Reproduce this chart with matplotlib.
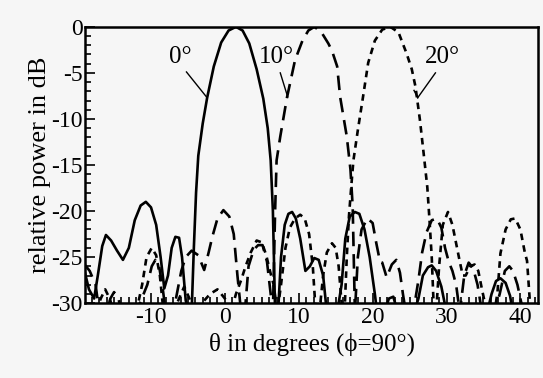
import matplotlib
matplotlib.use("Agg")
from matplotlib import pyplot as plt
from matplotlib.ticker import MultipleLocator

# theta (deg) / relative power (dB)
theta_0 = [-19.0, -18.4, -17.7, -17.2, -16.6, -16.1, -15.4, -14.6, -13.8, -13.0,
           -12.2, -11.4, -10.7, -10.0, -9.3, -8.7, -8.2, -7.7, -7.2, -6.7,
           -6.2, -5.8, -5.3, -4.9, -4.5, -4.2, -3.9, -3.6, -3.0, -2.4,
           -1.5, -0.5, 0.5, 1.5, 2.4, 3.3, 4.3, 5.2, 5.8, 6.2,
           6.5, 6.8, 7.2, 7.6, 8.1, 8.6, 9.1, 9.6, 10.2, 10.9,
           11.5, 12.1, 12.7, 13.3, 13.8, 15.2, 15.8, 16.3, 16.9, 17.6,
           18.2, 18.9, 19.6, 20.3, 20.6, 21.6, 22.2, 22.8, 23.4, 25.6,
           26.2, 26.8, 27.5, 28.0, 28.6, 29.3, 30.0, 35.5, 36.1, 36.7,
           37.3, 38.0, 38.6, 39.0, 42.5]
db_0 = [-26.5, -28.5, -29.5, -27.0, -23.8, -22.6, -23.2, -24.3, -25.3, -24.0,
        -21.0, -19.4, -19.0, -19.6, -21.5, -25.0, -28.4, -27.0, -24.0, -22.8,
        -22.9, -25.0, -29.7, -31.0, -31.0, -24.0, -18.0, -14.0, -10.5, -7.7,
        -4.3, -1.7, -0.4, 0.0, -0.4, -1.8, -4.6, -7.8, -11.0, -14.5,
        -20.0, -31.0, -31.0, -25.0, -21.5, -20.3, -20.1, -20.8, -23.0, -26.5,
        -26.0, -25.1, -25.3, -27.0, -31.0, -31.0, -28.0, -23.0, -20.6, -20.1,
        -20.3, -22.0, -25.0, -29.0, -31.0, -31.0, -29.5, -29.3, -31.0, -31.0,
        -29.5, -27.0, -26.1, -25.9, -26.5, -28.2, -31.0, -31.0, -29.0, -27.6,
        -27.3, -27.8, -29.2, -31.0, -31.0]

theta_10 = [-19.0, -18.3, -17.5, -17.0, -16.0, -15.5, -15.0, -14.4, -14.0, -12.5,
            -11.5, -10.5, -9.9, -9.4, -8.9, -8.4, -8.0, -7.0, -6.5, -5.9,
            -5.3, -4.5, -3.6, -2.8, -2.2, -1.7, -1.0, -0.2, 0.6, 1.2,
            1.7, 2.2, 2.7, 3.2, 3.9, 4.5, 5.1, 5.7, 6.2, 6.5,
            6.8, 7.0, 7.5, 8.4, 9.5, 10.5, 11.3, 12.1, 13.0, 14.0,
            14.5, 15.2, 15.6, 16.5, 17.0, 17.3, 17.6, 18.0, 18.5, 19.3,
            20.0, 20.5, 21.0, 21.3, 21.9, 22.6, 23.2, 23.7, 24.1, 24.5,
            25.5, 26.2, 26.7, 27.3, 28.0, 28.7, 29.3, 29.8, 30.3, 30.8,
            31.3, 31.8, 32.4, 33.0, 33.6, 34.2, 34.8, 36.5, 37.2, 37.9,
            38.5, 39.0, 39.6, 40.0, 40.4, 42.5]
db_10 = [-25.8, -26.5, -28.0, -31.0, -31.0, -29.5, -28.8, -29.5, -31.0, -31.0,
         -30.0, -28.0, -26.0, -25.3, -26.0, -28.5, -31.0, -31.0, -29.0, -26.5,
         -25.0, -24.3, -24.8, -26.4, -24.5, -22.8, -20.8, -19.9, -20.6, -22.5,
         -27.0, -31.0, -31.0, -26.0, -24.2, -23.7, -23.7, -25.5, -29.0, -31.0,
         -20.0, -14.5, -11.9, -7.7, -3.6, -1.5, -0.4, 0.0, -0.5, -1.8,
         -2.6, -4.3, -7.6, -11.9, -15.5, -19.5, -31.0, -25.0, -22.0, -20.8,
         -21.3, -23.5, -25.5, -25.6, -27.2, -25.8, -25.3, -26.7, -29.0, -31.0,
         -31.0, -27.5, -24.5, -22.3, -21.0, -20.8, -21.8, -24.0, -25.5, -26.5,
         -28.0, -31.0, -27.0, -25.6, -26.2, -28.0, -31.0, -31.0, -29.0, -26.5,
         -26.0, -26.5, -28.0, -29.5, -31.0, -31.0]

theta_20 = [-19.0, -17.5, -16.8, -16.2, -15.6, -15.0, -12.0, -11.2, -10.6, -9.9,
            -9.3, -8.8, -8.3, -7.0, -6.2, -5.5, -4.8, -4.2, -2.0, -1.0,
            0.0, 0.8, 1.5, 2.2, 2.8, 3.5, 4.3, 5.0, 5.6, 6.1,
            6.6, 7.1, 7.6, 8.2, 8.8, 9.5, 10.2, 10.8, 11.4, 11.9,
            12.3, 12.8, 13.3, 13.8, 14.5, 15.0, 15.4, 15.8, 16.2, 16.5,
            16.8, 17.1, 17.4, 18.0, 18.7, 19.4, 20.3, 21.3, 22.4, 23.5,
            24.6, 25.3, 25.8, 26.4, 26.9, 27.4, 27.7, 28.0, 28.3, 28.6,
            29.0, 29.5, 30.2, 30.8, 31.3, 31.8, 32.2, 32.6, 33.2, 33.8,
            34.3, 34.8, 35.2, 35.7, 36.5, 36.9, 37.3, 38.0, 38.7, 39.3,
            40.0, 40.6, 40.9, 41.3, 41.6, 42.5]
db_20 = [-31.0, -31.0, -29.5, -28.5, -29.5, -31.0, -31.0, -28.0, -25.0, -24.0,
         -24.8, -27.0, -31.0, -31.0, -29.5, -28.2, -29.5, -31.0, -29.0, -28.5,
         -29.5, -31.0, -29.0, -27.5, -26.0, -24.5, -23.2, -23.4, -24.8, -26.5,
         -28.0, -31.0, -28.0, -24.0, -21.8, -20.8, -20.4, -20.8, -22.5, -26.0,
         -31.0, -31.0, -27.0, -24.5, -23.5, -24.0, -26.0, -30.0, -31.0, -25.0,
         -20.5, -17.4, -14.5, -11.2, -7.6, -3.9, -1.5, -0.3, 0.0, -0.6,
         -2.9, -4.6, -6.5, -10.1, -13.7, -17.4, -21.0, -25.0, -31.0, -31.0,
         -26.0, -21.5, -20.1, -21.5, -23.5, -25.5, -27.0, -27.0, -26.0, -25.8,
         -26.5, -28.5, -30.0, -31.0, -31.0, -28.8, -24.6, -22.0, -20.9, -20.8,
         -22.0, -24.5, -25.4, -30.0, -31.0, -31.0]

plt.rcParams['font.family'] = ['Liberation Serif', 'DejaVu Serif']

fig = plt.figure(figsize=(5.43, 3.78), dpi=100, facecolor='#f6f6f6')
ax = fig.add_axes([0.157, 0.198, 0.834, 0.731])
ax.set_facecolor('#f6f6f6')

ax.plot(theta_0, db_0, color='black', lw=1.9, solid_joinstyle='round')
ax.plot(theta_10, db_10, color='black', lw=1.9, dashes=(5.5, 3))
ax.plot(theta_20, db_20, color='black', lw=1.9, dashes=(2.5, 2))

ax.set_xlim(-18.9, 42.4)
ax.set_ylim(-30, 0)
ax.xaxis.set_minor_locator(MultipleLocator(1))
ax.yaxis.set_minor_locator(MultipleLocator(1))
ax.tick_params(which='both', direction='in', top=False, right=False,
               labelsize=17, width=1.2)
ax.tick_params(axis='x', pad=3)
ax.tick_params(axis='y', pad=2)
ax.tick_params(which='major', length=7)
ax.tick_params(which='minor', length=4)
ax.set_yticks([0, -5, -10, -15, -20, -25, -30])
ax.set_yticklabels(['0', '-5', '-10', '-15', '-20', '-25', '-30'])
ax.set_xticks([-10, 0, 10, 20, 30, 40])
ax.set_xticklabels(['-10', '0', '10', '20', '30', '40'])
for s in ax.spines.values():
    s.set_linewidth(1.8)

ax.set_xlabel('θ in degrees (ϕ=90°)', fontsize=18, labelpad=3)
ax.set_ylabel('relative power in dB', fontsize=19, labelpad=0)

# curve labels with pointer lines
ax.text(-6.0, -3.3, '0°', fontsize=18, ha='center', va='center')
ax.plot([-5.2, -2.5], [-4.9, -7.6], color='black', lw=1.0)
ax.text(7.0, -3.3, '10°', fontsize=18, ha='center', va='center')
ax.plot([7.5, 8.5], [-5.0, -7.6], color='black', lw=1.0)
ax.text(29.4, -3.3, '20°', fontsize=18, ha='center', va='center')
ax.plot([28.5, 26.1], [-5.0, -7.7], color='black', lw=1.0)
ax.plot([26.1, 25.6], [-7.7, -6.9], color='black', lw=1.0)

fig.savefig('out.png', dpi=100, facecolor=fig.get_facecolor())
